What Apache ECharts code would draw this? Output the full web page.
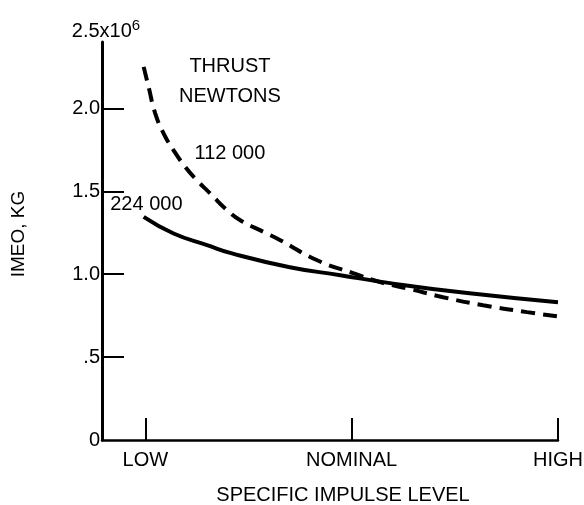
<!DOCTYPE html>
<html lang="en">
<head>
    <meta charset="UTF-8">
    <title>IMEO vs specific impulse</title>
    <script src="https://cdn.jsdelivr.net/npm/echarts@6/dist/echarts.min.js"></script>
    <style>
        html, body {margin: 0; padding: 0; background: #fff;}
    </style>
</head>
<body>
<div id="main" style="width:584px;height:505px;"></div>
<script>
    // 数据
    var levelNames = ['LOW', 'NOMINAL', 'HIGH'];
    var levelTicks = [0, 1, 2];
    var yTicks = [0.5, 1, 1.5, 2];
    var yLabels = [0, 0.5, 1, 1.5, 2];

    // 112 000 N (dashed)
    var thrust112X = [-0.008, 0.016, 0.048, 0.089, 0.137, 0.194, 0.25, 0.315, 0.396, 0.46, 0.573, 0.654, 0.833, 1.007, 1.138, 1.283, 1.443, 1.637, 1.85, 2.0];
    var thrust112Y = [2.25, 2.128, 1.97, 1.848, 1.747, 1.646, 1.566, 1.486, 1.386, 1.325, 1.255, 1.205, 1.084, 1.006, 0.952, 0.91, 0.861, 0.813, 0.771, 0.745];
    // 224 000 N (solid)
    var thrust224X = [-0.008, 0.137, 0.299, 0.42, 0.70, 0.945, 1.186, 1.56, 2.0];
    var thrust224Y = [1.345, 1.245, 1.175, 1.125, 1.042, 0.994, 0.946, 0.886, 0.831];

    function pairs(xs, ys) {
        return xs.map(function (x, i) { return [x, ys[i]]; });
    }

    var font = "'Liberation Sans', Arial, sans-serif";

    var myChart = echarts.init(document.getElementById('main'));
    myChart.setOption({
        animation: false,
        backgroundColor: '#fff',
        textStyle: {fontFamily: font, color: '#000'},
        grid: {left: 102, right: 26, top: 42, bottom: 65, outerBoundsMode: 'none', containLabel: false},
        xAxis: {
            type: 'value',
            min: -0.21,
            max: 2,
            name: 'SPECIFIC IMPULSE LEVEL',
            nameLocation: 'middle',
            nameGap: 45,
            nameTextStyle: {fontFamily: font, fontSize: 20, color: '#000', padding: [0, 0, 0, 26]},
            axisLine: {onZero: false, lineStyle: {color: '#000', width: 2.5}},
            axisTick: {show: true, inside: true, length: 22, customValues: levelTicks,
                lineStyle: {color: '#000', width: 2}},
            axisLabel: {
                customValues: levelTicks,
                margin: 10,
                fontSize: 20,
                color: '#000',
                fontFamily: font,
                formatter: function (v) { return levelNames[Math.round(v)]; }
            },
            splitLine: {show: false}
        },
        yAxis: [{
            type: 'value',
            min: 0,
            max: 2.4,
            name: '{a|2.5x10}{s|6}',
            nameLocation: 'end',
            nameGap: -3,
            nameTextStyle: {
                align: 'center',
                padding: [0, 0, 0, 8],
                rich: {
                    a: {fontFamily: font, fontSize: 20, color: '#000'},
                    s: {fontFamily: font, fontSize: 15, color: '#000', verticalAlign: 'top', padding: [0, 0, 12, 0]}
                }
            },
            axisLine: {show: true, onZero: false, lineStyle: {color: '#000', width: 3}},
            axisTick: {show: true, inside: true, length: 22, customValues: yTicks,
                lineStyle: {color: '#000', width: 2}},
            axisLabel: {
                customValues: yLabels,
                margin: 2,
                fontSize: 20,
                color: '#000',
                fontFamily: font,
                formatter: function (v) {
                    if (v === 0) return '0';
                    if (v === 0.5) return '.5';
                    return v.toFixed(1);
                }
            },
            splitLine: {show: false}
        }, {
            // 只用来放纵轴标题
            type: 'value',
            min: 0,
            max: 2.4,
            position: 'left',
            name: 'IMEO, KG',
            nameLocation: 'middle',
            nameGap: 74,
            nameTextStyle: {fontFamily: font, fontSize: 19, color: '#000', padding: [0, 0, 0, 14]},
            axisLine: {show: false, onZero: false},
            axisTick: {show: false},
            axisLabel: {show: false},
            splitLine: {show: false}
        }],
        series: [
            {
                name: '112 000',
                type: 'line',
                smooth: 0.5,
                showSymbol: false,
                data: pairs(thrust112X, thrust112Y),
                lineStyle: {color: '#000', width: 4, type: [14, 8]},
                markPoint: {
                    symbolSize: 0,
                    label: {show: true, color: '#000', fontFamily: font, fontSize: 20, lineHeight: 30, position: 'inside'},
                    data: [
                        {coord: [0.41, 2.16], value: 'THRUST\nNEWTONS', label: {formatter: 'THRUST\nNEWTONS'}},
                        {coord: [0.41, 1.73], value: '112 000', label: {formatter: '112 000'}}
                    ]
                }
            },
            {
                name: '224 000',
                type: 'line',
                smooth: 0.5,
                showSymbol: false,
                data: pairs(thrust224X, thrust224Y),
                lineStyle: {color: '#000', width: 4},
                markPoint: {
                    symbolSize: 0,
                    label: {show: true, color: '#000', fontFamily: font, fontSize: 20, position: 'inside'},
                    data: [
                        {coord: [0.005, 1.42], value: '224 000', label: {formatter: '224 000'}}
                    ]
                }
            }
        ]
    });
</script>
</body>
</html>
